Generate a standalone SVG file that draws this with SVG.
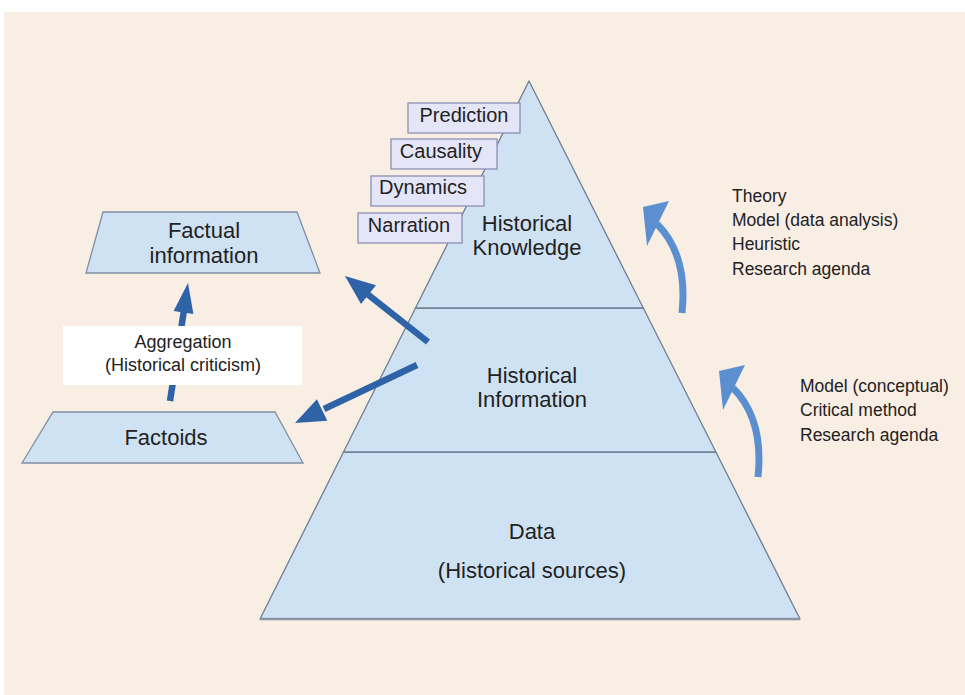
<svg xmlns="http://www.w3.org/2000/svg" width="965" height="695" viewBox="0 0 965 695">
<style>
  .lvl { fill: #cfe2f4; stroke: #6f7f92; stroke-width: 1.3; stroke-linejoin: round; }
  .trap { fill: #cfe2f4; stroke: #7f8fa3; stroke-width: 1.3; }
  .box { fill: #e5e5f8; stroke: #8a90b4; stroke-width: 1.3; }
  .t { font-family: "Liberation Sans", Arial, sans-serif; fill: #222; text-anchor: middle; }
  .big { font-size: 22px; }
  .mid { font-size: 20px; }
  .sm { font-size: 18px; }
  .side { font-family: "Liberation Sans", Arial, sans-serif; fill: #222; font-size: 17.5px; }
  .dark { stroke: #2f63a7; stroke-width: 6.5; fill: none; }
  .darkhead { fill: #2f63a7; }
  .light { stroke: #5b8fd0; stroke-width: 7; fill: none; }
  .lighthead { fill: #5b8fd0; }
</style>
<rect x="0" y="0" width="965" height="695" fill="#ffffff"/>
<rect x="4" y="12" width="961" height="683" fill="#f8eee4"/>

<g id="pyramid">
  <g id="data">
    <polygon class="lvl" points="343.5,452 715.9,452 800,619 260,619"/>
    <line x1="260" y1="619" x2="800" y2="619" stroke="#8a95a3" stroke-width="2.5"/>
    <text class="t big" x="532" y="539">Data</text>
    <text class="t big" x="532" y="578">(Historical sources)</text>
  </g>
  <g id="historical-information">
    <polygon class="lvl" points="415.5,308 643.3,308 715.9,452 343.5,452"/>
    <text class="t big" x="532" y="383">Historical</text>
    <text class="t big" x="532" y="407">Information</text>
  </g>
  <g id="historical-knowledge">
    <polygon class="lvl" points="529,81 643.3,308 415.5,308"/>
    <text class="t big" x="527" y="231">Historical</text>
    <text class="t big" x="527" y="255">Knowledge</text>
  </g>
</g>

<g id="prediction">
  <rect class="box" x="408" y="103" width="112" height="30"/>
  <text class="t mid" x="464" y="122">Prediction</text>
</g>
<g id="causality">
  <rect class="box" x="391" y="139" width="106" height="30"/>
  <text class="t mid" x="441" y="158">Causality</text>
</g>
<g id="dynamics">
  <rect class="box" x="371" y="176" width="113" height="30"/>
  <text class="t mid" x="423" y="194">Dynamics</text>
</g>
<g id="narration">
  <rect class="box" x="358" y="213" width="104" height="30"/>
  <text class="t mid" x="409" y="232">Narration</text>
</g>

<g id="factual-information">
  <polygon class="trap" points="103,212 297,212 320,273 86,273"/>
  <text class="t big" x="204" y="238">Factual</text>
  <text class="t big" x="204" y="263">information</text>
</g>
<g id="factoids">
  <polygon class="trap" points="53,412 275,412 303,463 22,463"/>
  <text class="t big" x="166" y="445">Factoids</text>
</g>

<g id="connectors">
  <line class="dark" x1="428" y1="342" x2="366" y2="293"/>
  <polygon class="darkhead" points="345,276 376,285.3 361,304.1"/>
  <line class="dark" x1="417" y1="365" x2="324" y2="409"/>
  <polygon class="darkhead" points="295,423 327.3,420.8 316.9,399.2"/>
  <line class="dark" x1="170" y1="401" x2="184" y2="310" stroke-width="6"/>
  <polygon class="darkhead" points="188,283 193.4,314.1 173.6,311.1"/>
  <g id="curve-upper">
    <path class="light" d="M 682 313 C 686 275, 678 245, 657 224"/>
    <polygon class="lighthead" points="643,207 669,201 647,246"/>
  </g>
  <g id="curve-lower" transform="translate(76,164)">
    <path class="light" d="M 682 313 C 686 275, 678 245, 657 224"/>
    <polygon class="lighthead" points="643,207 669,201 647,246"/>
  </g>
</g>

<g id="aggregation">
  <rect x="63" y="326" width="239" height="59" fill="#ffffff"/>
  <text class="t sm" x="183" y="348">Aggregation</text>
  <text class="t sm" x="183" y="371">(Historical criticism)</text>
</g>

<g id="upper-notes">
  <text class="side" x="732" y="202">Theory</text>
  <text class="side" x="732" y="226">Model (data analysis)</text>
  <text class="side" x="732" y="250">Heuristic</text>
  <text class="side" x="732" y="275">Research agenda</text>
</g>
<g id="lower-notes">
  <text class="side" x="800" y="392">Model (conceptual)</text>
  <text class="side" x="800" y="416">Critical method</text>
  <text class="side" x="800" y="441">Research agenda</text>
</g>
</svg>
